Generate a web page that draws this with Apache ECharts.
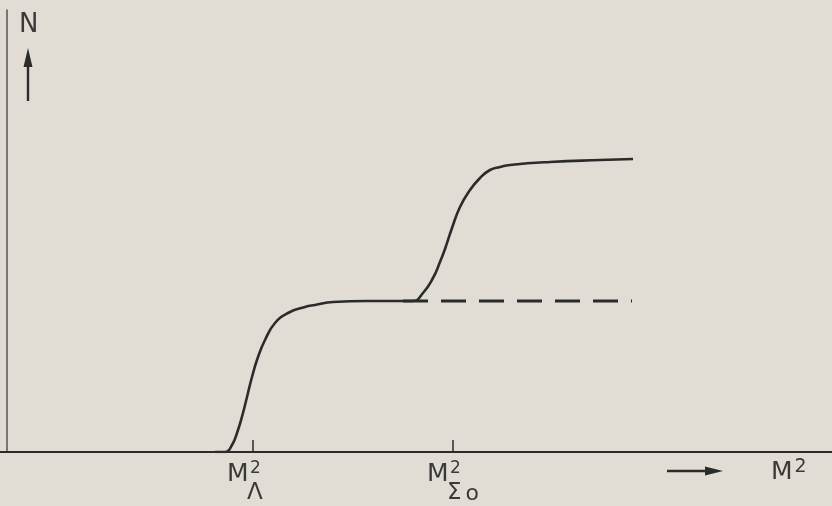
<!DOCTYPE html>
<html>
<head>
<meta charset="utf-8">
<script src="https://cdn.jsdelivr.net/npm/echarts@6/dist/echarts.min.js"></script>
<style>
html,body{margin:0;padding:0;background:#e1ddd5;}
#c{width:832px;height:506px;}
</style>
</head>
<body>
<div id="c"></div>
<script>
// Curve N(M^2): x in arbitrary mass^2 units, y in arbitrary N units
const curveX = [208,218,225,231,236,240,245,251,258,268,281,298,308,326,360,393,406,416,426,433,438,445,453,463,473,483,493,503,543,593,626];
const curveY = [0,0,7,22,39,55,75,95,112,129,139,145,147,150,151,151,151,159,174,190,203,224,245,262,274,282,285,287,290,292,293];
// Dashed continuation of the first plateau
const dashX = [396,625];
const dashY = [151,151];
// Tick positions and their labels
const tickValues = [246,446];
const tickSubs = ['Λ','Σ'];

const chart = echarts.init(document.getElementById('c'), null, {renderer:'canvas'});
const ink = '#2b2b2b';
const textInk = '#3a3a3a';
const font = 'DejaVu Sans';

function labelFor(v){
  const i = tickValues.indexOf(v);
  if (i === 0) return '{m|M}{sup|2}{sp|}\n{pad|}{sub|' + tickSubs[0] + '}';
  if (i === 1) return '{m|M}{sup|2}{sp|}\n{pad|}{sub|' + tickSubs[1] + '}{o|o}';
  return '';
}

chart.setOption({
  backgroundColor:'#e1ddd5',
  animation:false,
  grid:{left:0,right:0,top:10,bottom:54,containLabel:false,outerBoundsMode:'none'},
  xAxis:{
    type:'value', min:-7, max:825,
    splitLine:{show:false},
    axisLine:{show:true,onZero:false,lineStyle:{color:ink,width:2}},
    axisTick:{show:true,inside:true,length:12,customValues:tickValues,lineStyle:{color:ink,width:1.5}},
    axisLabel:{
      show:true, customValues:tickValues, margin:16,
      formatter:labelFor,
      rich:{
        m:{fontFamily:font,fontSize:25,color:textInk,lineHeight:19,width:22,align:'left',verticalAlign:'bottom'},
        sup:{fontFamily:font,fontSize:17,color:textInk,lineHeight:9,width:12,align:'left',verticalAlign:'bottom',padding:[0,0,10,1]},
        sp:{width:17,align:'left'},
        pad:{width:20,align:'left'},
        sub:{fontFamily:font,fontSize:23,color:textInk,lineHeight:18,align:'left',verticalAlign:'bottom'},
        o:{fontFamily:font,fontSize:22,color:textInk,lineHeight:17,align:'left',verticalAlign:'bottom',padding:[0,0,0,4]}
      }
    }
  },
  yAxis:{
    type:'value', min:0, max:442,
    splitLine:{show:false},
    axisLine:{show:true,onZero:true,lineStyle:{color:'#555',width:1.5}},
    axisTick:{show:false},
    axisLabel:{show:false}
  },
  series:[
    {
      type:'line', name:'N',
      data:curveX.map((x,i)=>[x,curveY[i]]),
      smooth:0.5, showSymbol:false, symbol:'none',
      lineStyle:{color:ink,width:2.6},
      z:3
    },
    {
      type:'line', name:'plateau',
      data:dashX.map((x,i)=>[x,dashY[i]]),
      showSymbol:false, symbol:'none',
      lineStyle:{color:ink,width:2.8,type:[25,13]},
      z:2
    }
  ],
  graphic:[
    {type:'text',left:19,top:12,style:{text:'N',fontFamily:font,fontSize:26,fill:textInk}},
    {type:'line',shape:{x1:28,y1:101,x2:28,y2:62},style:{stroke:ink,lineWidth:2.4}},
    {type:'polygon',shape:{points:[[28,48],[23.5,67],[32.5,67]]},style:{fill:ink}},
    {type:'line',shape:{x1:667,y1:471,x2:708,y2:471},style:{stroke:ink,lineWidth:2.4}},
    {type:'polygon',shape:{points:[[723,471],[705,466.5],[705,475.5]]},style:{fill:ink}},
    {type:'text',left:771,top:458,style:{
      text:'{m|M}{sup|2}',
      rich:{
        m:{fontFamily:font,fontSize:25,fill:textInk,lineHeight:26,verticalAlign:'bottom'},
        sup:{fontFamily:font,fontSize:19,fill:textInk,lineHeight:18,verticalAlign:'bottom',padding:[0,0,8,2]}
      }}}
  ]
});
</script>
</body>
</html>
